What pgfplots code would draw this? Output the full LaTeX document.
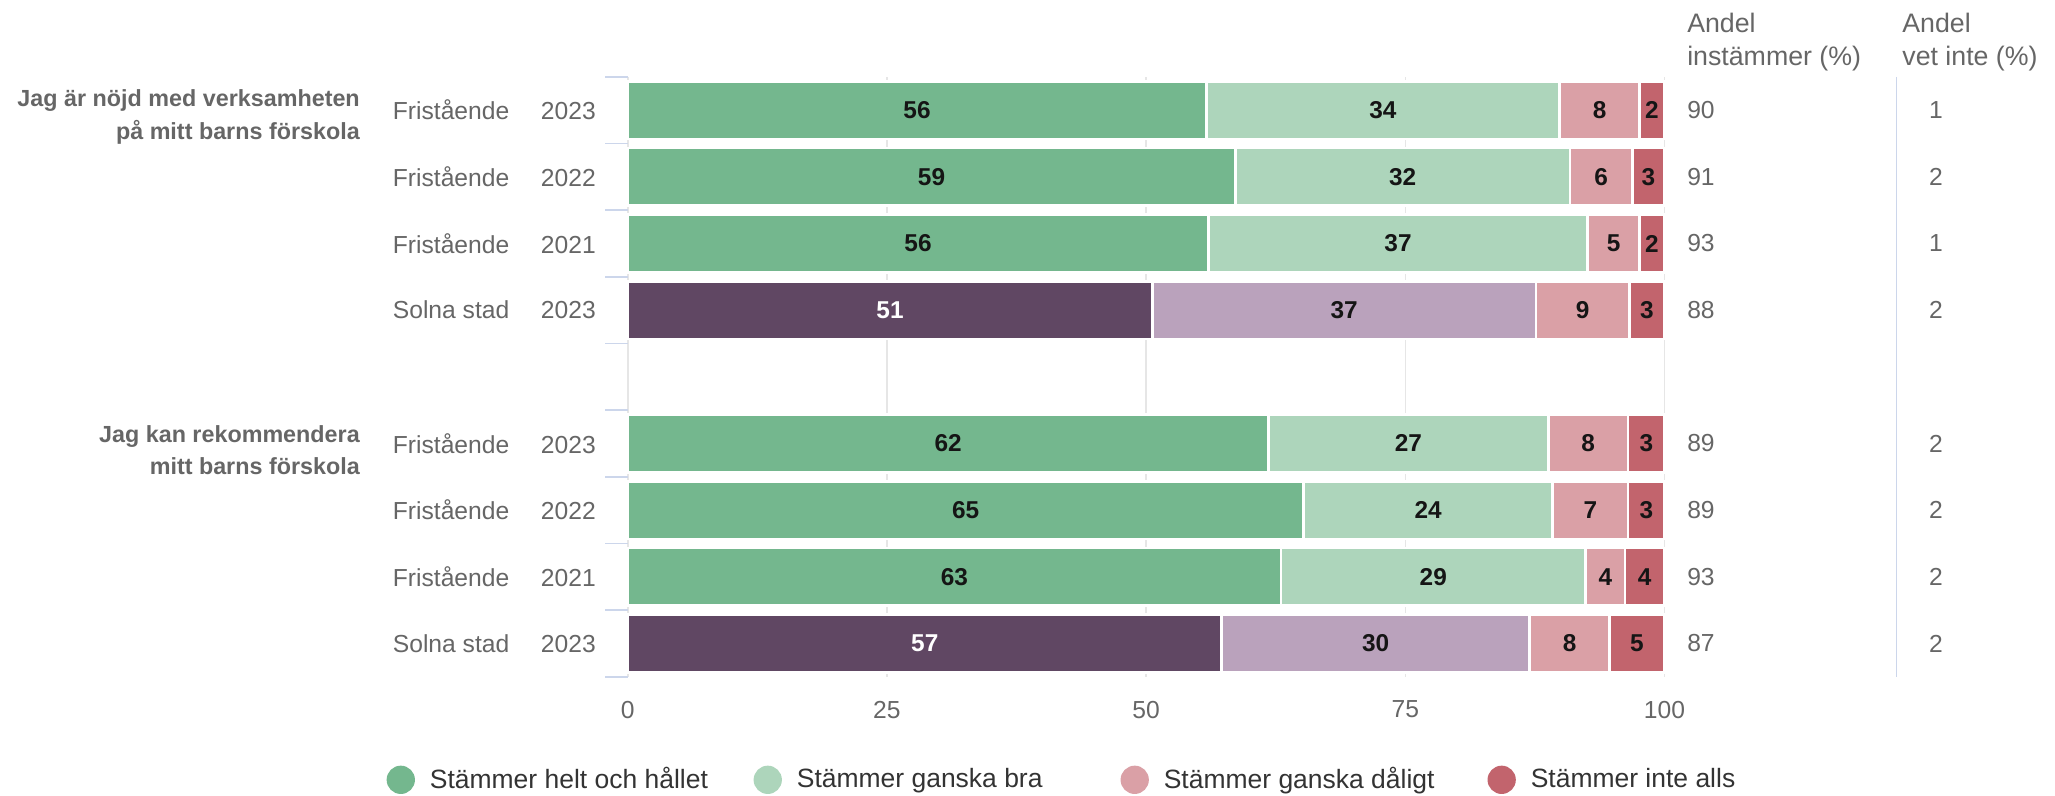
\documentclass[border=0pt]{standalone}
\usepackage{fontspec}
\setmainfont{Liberation Sans}
\usepackage{pgfplots}
\usepackage{pgfplotstable}
\pgfplotsset{compat=1.18}

\definecolor{cDG}{HTML}{74B78E}
\definecolor{cLG}{HTML}{ADD5BB}
\definecolor{cPK}{HTML}{DAA0A6}
\definecolor{cRD}{HTML}{C2646D}
\definecolor{cDP}{HTML}{604763}
\definecolor{cLP}{HTML}{BAA2BC}
\definecolor{cAxis}{HTML}{CCD6EB}
\definecolor{cGrid}{HTML}{E6E6E6}
\definecolor{c666}{HTML}{666666}
\definecolor{c333}{HTML}{333333}
\definecolor{c222}{HTML}{151515}

% y = row slot (4 is the gap), a..d = segment shares, la..ld = printed labels
\pgfplotstableread{
y a    b    c   d   la lb lc ld ins vet
0 55.8 34.1 7.7 2.4 56 34 8  2  90  1
1 58.6 32.3 6.0 3.1 59 32 6  3  91  2
2 56.0 36.6 5.0 2.4 56 37 5  2  93  1
5 61.8 27.0 7.7 3.5 62 27 8  3  89  2
6 65.2 24.0 7.3 3.5 65 24 7  3  89  2
7 63.0 29.4 3.8 3.8 63 29 4  4  93  2
}\fri
\pgfplotstableread{
y a    b    c   d   la lb lc ld ins vet
3 50.6 37.0 9.0 3.4 51 37 9  3  88  2
8 57.3 29.7 7.7 5.3 57 30 8  5  87  2
}\sol

\pgfplotsset{
  seg/.style={xbar, bar shift=0pt, bar width=0.865, draw=white, line width=1pt, fill=#1},
  circ/.style={legend image code/.code={
      \path[fill=none, draw=none] (0pt,-5.5pt) rectangle (16.5pt,5.5pt);
      \fill[#1, draw=none] (5.4pt,0pt) circle[radius=5.4pt];}},
  lab/.style={forget plot, draw=none, nodes near coords, point meta=explicit symbolic,
      nodes near coords style={anchor=center, inner sep=0pt,
      font=\fontsize{9.3}{11}\selectfont\bfseries, text=#1}},
  col/.style={forget plot, draw=none, nodes near coords, point meta=explicit symbolic,
      nodes near coords style={anchor=#1, inner sep=0pt,
      font=\fontsize{9.4}{11}\selectfont, text=c666}},
}

\begin{document}
\begin{tikzpicture}
\useasboundingbox (0,0) rectangle (784pt,303.5pt);
\begin{axis}[
    at={(239.5pt,45.3pt)}, anchor=south west,
    scale only axis, width=395.5pt, height=228.9pt,
    clip=false,
    xmin=0, xmax=100, ymin=-0.5, ymax=8.5, y dir=reverse,
    axis line style={draw=none},
    xtick={0,25,50,75,100},
    xmajorgrids, grid style={cGrid, line width=0.6pt},
    ytick={0,1,2,3,5,6,7,8},
    yticklabels={
      \makebox[56.5pt][l]{Fristående}2023,
      \makebox[56.5pt][l]{Fristående}2022,
      \makebox[56.5pt][l]{Fristående}2021,
      \makebox[56.5pt][l]{Solna stad}2023,
      \makebox[56.5pt][l]{Fristående}2023,
      \makebox[56.5pt][l]{Fristående}2022,
      \makebox[56.5pt][l]{Fristående}2021,
      \makebox[56.5pt][l]{Solna stad}2023},
    minor ytick={-0.5,0.5,...,8.5},
    tick align=outside, ytick pos=left, xtick pos=bottom,
    major tick length=0pt, minor tick length=8.5pt,
    minor tick style={cAxis, line width=0.6pt},
    major tick style={draw=none},
    /pgf/number format/assume math mode=true,
    yticklabel style={anchor=east, inner sep=0pt, xshift=-12pt,
      font=\fontsize{9.4}{11}\selectfont, text=c666},
    xticklabel style={anchor=north, inner sep=0pt, yshift=-9pt,
      font=\fontsize{9.4}{11}\selectfont, text=c666},
    legend columns=4, reverse legend,
    legend style={at={(-0.2326,-0.1717)}, anchor=west, draw=none, fill=none,
      inner sep=0pt, outer sep=0pt, nodes={inner sep=0pt},
      /tikz/every even column/.append style={column sep=0pt},
      font=\fontsize{10.1}{12}\selectfont, text=c333},
    legend cell align=left,
]
\draw[cAxis, line width=0.6pt] (axis cs:122.4,-0.5) -- (axis cs:122.4,8.5);

% Fristaende rows: draw cumulative ends, longest first
\addplot[seg=cRD, circ=cRD] table[x expr=\thisrow{a}+\thisrow{b}+\thisrow{c}+\thisrow{d}, y=y] {\fri};
\addlegendentry{Stämmer inte alls}
\addplot[seg=cPK, circ=cPK] table[x expr=\thisrow{a}+\thisrow{b}+\thisrow{c}, y=y] {\fri};
\addlegendentry{\makebox[123.5pt][l]{Stämmer ganska dåligt}}
\addplot[seg=cLG, circ=cLG] table[x expr=\thisrow{a}+\thisrow{b}, y=y] {\fri};
\addlegendentry{\makebox[123.5pt][l]{Stämmer ganska bra}}
\addplot[seg=cDG, circ=cDG] table[x=a, y=y] {\fri};
\addlegendentry{\makebox[123.5pt][l]{Stämmer helt och hållet}}

% Solna stad rows
\addplot[seg=cRD, forget plot] table[x expr=\thisrow{a}+\thisrow{b}+\thisrow{c}+\thisrow{d}, y=y] {\sol};
\addplot[seg=cPK, forget plot] table[x expr=\thisrow{a}+\thisrow{b}+\thisrow{c}, y=y] {\sol};
\addplot[seg=cLP, forget plot] table[x expr=\thisrow{a}+\thisrow{b}, y=y] {\sol};
\addplot[seg=cDP, forget plot] table[x=a, y=y] {\sol};

% segment labels
\addplot[lab=c222] table[x expr=\thisrow{a}/2, y=y, meta=la] {\fri};
\addplot[lab=c222] table[x expr=\thisrow{a}+\thisrow{b}/2, y=y, meta=lb] {\fri};
\addplot[lab=c222] table[x expr=\thisrow{a}+\thisrow{b}+\thisrow{c}/2, y=y, meta=lc] {\fri};
\addplot[lab=c222] table[x expr=\thisrow{a}+\thisrow{b}+\thisrow{c}+\thisrow{d}/2, y=y, meta=ld] {\fri};
\addplot[lab=white] table[x expr=\thisrow{a}/2, y=y, meta=la] {\sol};
\addplot[lab=c222] table[x expr=\thisrow{a}+\thisrow{b}/2, y=y, meta=lb] {\sol};
\addplot[lab=c222] table[x expr=\thisrow{a}+\thisrow{b}+\thisrow{c}/2, y=y, meta=lc] {\sol};
\addplot[lab=c222] table[x expr=\thisrow{a}+\thisrow{b}+\thisrow{c}+\thisrow{d}/2, y=y, meta=ld] {\sol};

% right-hand columns
\addplot[col=west] table[x expr=102.15, y=y, meta=ins] {\fri};
\addplot[col=west] table[x expr=102.15, y=y, meta=ins] {\sol};
\addplot[col=center] table[x expr=126.2, y=y, meta=vet] {\fri};
\addplot[col=center] table[x expr=126.2, y=y, meta=vet] {\sol};

\node[anchor=west, align=left, inner sep=0pt, font=\fontsize{10.2}{12.5}\selectfont, text=c666]
  at (axis cs:102.15,-1.02) {Andel\\instämmer (\%)};
\node[anchor=west, align=left, inner sep=0pt, font=\fontsize{10.2}{12.5}\selectfont, text=c666]
  at (axis cs:122.9,-1.02) {Andel\\vet inte (\%)};

\node[anchor=east, align=right, inner sep=0pt, font=\fontsize{8.9}{12.5}\selectfont\bfseries, text=c666]
  at (axis cs:-25.8,0.1) {Jag är nöjd med verksamheten\\på mitt barns förskola};
\node[anchor=east, align=right, inner sep=0pt, font=\fontsize{8.9}{12.5}\selectfont\bfseries, text=c666]
  at (axis cs:-25.8,5.1) {Jag kan rekommendera\\mitt barns förskola};
\end{axis}
\end{tikzpicture}
\end{document}
